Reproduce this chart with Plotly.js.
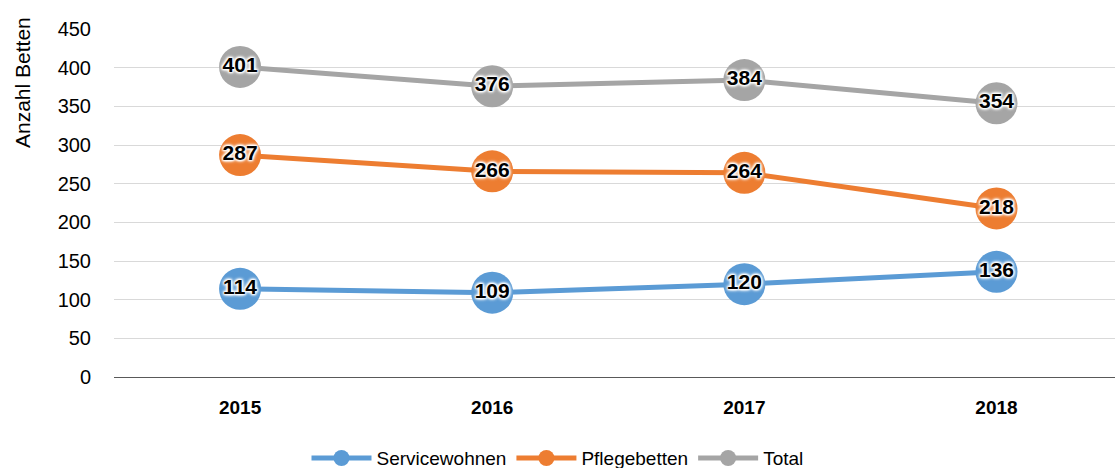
<!DOCTYPE html>
<html><head><meta charset="utf-8">
<script src="https://cdn.plot.ly/plotly-3.0.1.min.js"></script>
<style>html,body{margin:0;padding:0;background:#fff}#chart{width:1115px;height:468px}</style>
</head><body><div id="chart"></div>
<script>
const years = ["2015", "2016", "2017", "2018"];
const servicewohnen = [114, 109, 120, 136];
const pflegebetten = [287, 266, 264, 218];
const total = [401, 376, 384, 354];
const seriesNames = ["Servicewohnen", "Pflegebetten", "Total"];
const colors = ["#5B9BD5", "#ED7D31", "#A5A5A5"];
const yTicks = [0, 50, 100, 150, 200, 250, 300, 350, 400, 450];
const yTitle = "Anzahl Betten";

const FONT = "'Liberation Sans', Arial, sans-serif";
const HALO = "1px 1px 2px #fff, -1px -1px 2px #fff, 1px -1px 2px #fff, -1px 1px 2px #fff, 0 0 4px #fff, 0 0 4px #fff";
function tr(vals, i) {
  return {
    x: years, y: vals, name: seriesNames[i], type: "scatter", mode: "lines+markers+text",
    line: {color: colors[i], width: 5},
    marker: {color: colors[i], size: 42},
    text: vals.map(String), textposition: "middle center",
    textfont: {family: FONT, size: 21, color: "#000", weight: 700, shadow: HALO},
    cliponaxis: false
  };
}
const data = [tr(servicewohnen, 0), tr(pflegebetten, 1), tr(total, 2)];
const layout = {
  width: 1115, height: 468,
  margin: {l: 114, r: 0, t: 29, b: 91, autoexpand: false},
  paper_bgcolor: "#fff", plot_bgcolor: "#fff",
  font: {family: FONT, size: 19, color: "#000"},
  xaxis: {
    type: "category", range: [-0.5, 3.47], showgrid: false, zeroline: false,
    showline: false, ticks: "outside", ticklen: 13, tickcolor: "rgba(0,0,0,0)",
    tickfont: {family: FONT, size: 19, weight: 700}
  },
  yaxis: {
    range: [0, 450], tickvals: yTicks, ticktext: yTicks.map(String),
    showgrid: true, gridcolor: "#D9D9D9", gridwidth: 1, zeroline: true, zerolinecolor: "#595959", zerolinewidth: 1,
    ticks: "outside", ticklen: 18, tickcolor: "rgba(0,0,0,0)", showline: false,
    tickfont: {family: FONT, size: 20}
  },
  annotations: [{
    text: yTitle, textangle: -90, showarrow: false,
    xref: "paper", yref: "paper", x: -(114 - 22) / 1001, y: (377 - 83) / 348,
    xanchor: "center", yanchor: "middle", font: {family: FONT, size: 21, color: "#000"}
  }],
  showlegend: true,
  legend: {orientation: "h", x: 0.5, xref: "container", xanchor: "center", y: 0.021, yref: "container", yanchor: "middle",
    font: {family: FONT, size: 19}, itemwidth: 60, traceorder: "normal"}
};
Plotly.newPlot("chart", data, layout, {displayModeBar: false, staticPlot: true});
</script></body></html>
